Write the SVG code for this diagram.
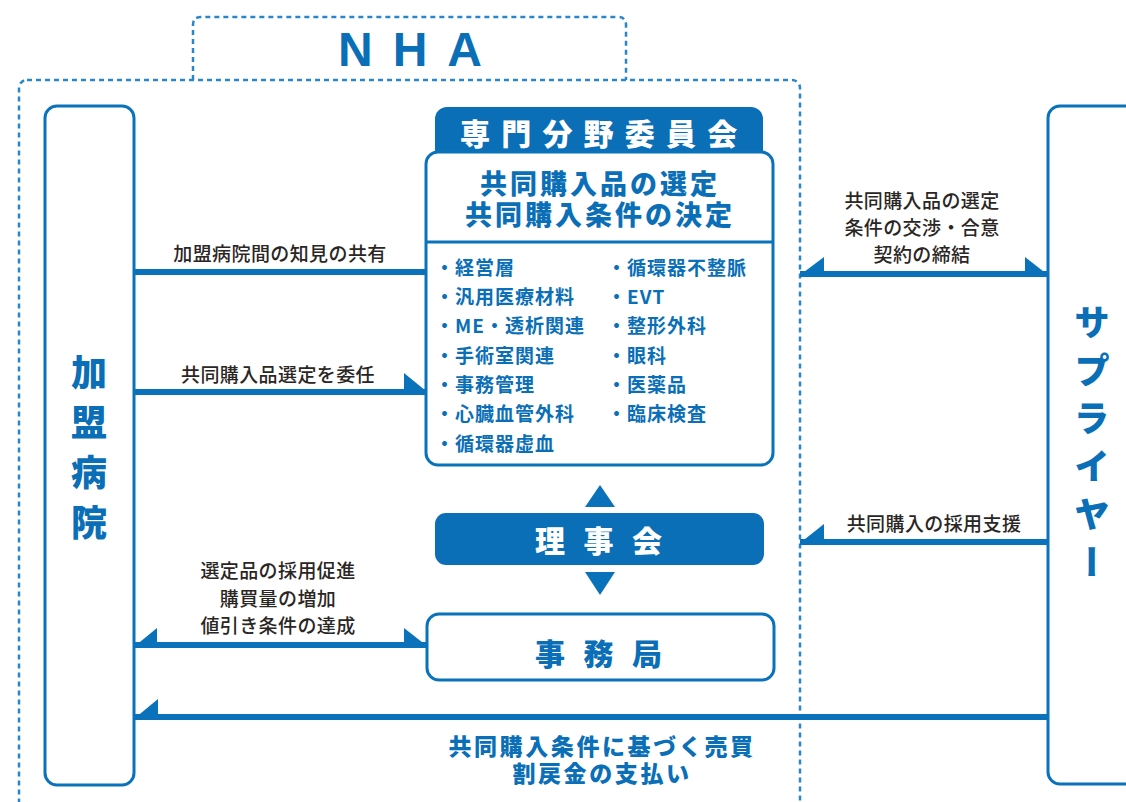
<svg xmlns="http://www.w3.org/2000/svg" width="1126" height="802" viewBox="0 0 1126 802">
<style>
.dash{fill:none;stroke:#2a86ca;stroke-width:2.5;stroke-dasharray:5 4}
.frame{fill:#fff;stroke:#0a72ba;stroke-width:3}
.fillb{fill:#0a6fb7}
.ln{stroke:#0a72ba;stroke-width:6;fill:none}
.ah{fill:#0a72ba}
.jp{font-family:"Noto Sans CJK JP","Noto Sans",sans-serif}
.lbl{font-size:19px;fill:#2a2624;font-weight:500;text-anchor:middle;dominant-baseline:central;letter-spacing:0.4px}
.btitle{font-weight:900;fill:#0a6fb7}
.wtitle{font-weight:900;fill:#fff}
.item{font-size:19px;font-weight:700;fill:#0a6fb7;dominant-baseline:central;letter-spacing:1px}
.vert{writing-mode:vertical-rl;font-size:36px;font-weight:900;fill:#0a6fb7}
</style>
<g id="nha">
<rect class="dash" x="19" y="80" width="781" height="760" rx="8"/>
<path class="dash" d="M193,80 V25 Q193,17 201,17 H618 Q626,17 626,25 V80"/>
<text x="338" y="66" font-family="Liberation Sans, Arial, sans-serif" font-weight="700" font-size="48" fill="#0a6fb7" letter-spacing="20">NHA</text>
</g>
<g id="hospital">
<rect class="frame" x="45" y="106" width="89" height="679" rx="12"/>
<text class="jp vert" x="89" y="354" letter-spacing="14">加盟病院</text>
</g>
<g id="supplier">
<rect class="frame" x="1048" y="106" width="100" height="678" rx="12"/>
<text class="jp vert" x="1092" y="304" letter-spacing="12">サプライヤー</text>
</g>
<g id="committee">
<rect class="fillb" x="435" y="107" width="328" height="60" rx="12"/>
<text class="jp wtitle" x="460" y="132" font-size="30" letter-spacing="11.2" dominant-baseline="central">専門分野委員会</text>
<rect class="frame" x="426" y="152" width="347" height="313" rx="12"/>
<line x1="426" y1="242" x2="773" y2="242" stroke="#0a72ba" stroke-width="3"/>
<text class="jp btitle" font-size="27" letter-spacing="3" text-anchor="middle" dominant-baseline="central"><tspan x="600" y="182">共同購入品の選定</tspan><tspan x="600" y="213">共同購入条件の決定</tspan></text>
<g class="jp item">
<text x="435" y="266">・経営層</text>
<text x="435" y="295">・汎用医療材料</text>
<text x="435" y="324">・ME・透析関連</text>
<text x="435" y="354">・手術室関連</text>
<text x="435" y="383">・事務管理</text>
<text x="435" y="412">・心臓血管外科</text>
<text x="435" y="442">・循環器虚血</text>
<text x="607" y="266">・循環器不整脈</text>
<text x="607" y="295">・EVT</text>
<text x="607" y="324">・整形外科</text>
<text x="607" y="354">・眼科</text>
<text x="607" y="383">・医薬品</text>
<text x="607" y="412">・臨床検査</text>
</g>
</g>
<g id="board">
<rect class="fillb" x="435" y="513" width="329" height="52" rx="11"/>
<text class="jp wtitle" x="535" y="539" font-size="30" letter-spacing="18.5" dominant-baseline="central">理事会</text>
</g>
<g id="secretariat">
<rect class="frame" x="427" y="614" width="347" height="66" rx="12"/>
<text class="jp btitle" x="535" y="652" font-size="30" letter-spacing="18.5" dominant-baseline="central">事務局</text>
</g>
<g id="connectors">
<line class="ln" x1="135" y1="272" x2="426" y2="272"/>
<line class="ln" x1="135" y1="392" x2="426" y2="392"/>
<polygon class="ah" points="404,373 426,391 404,391"/>
<line class="ln" x1="800" y1="274" x2="1048" y2="274"/>
<polygon class="ah" points="824,257 800,275 824,275"/>
<polygon class="ah" points="1025,257 1048,275 1025,275"/>
<line class="ln" x1="800" y1="542" x2="1048" y2="542"/>
<polygon class="ah" points="824,524 800,543 824,543"/>
<line class="ln" x1="135" y1="645" x2="427" y2="645"/>
<polygon class="ah" points="157,628 135,646 157,646"/>
<polygon class="ah" points="404,628 427,646 404,646"/>
<line class="ln" x1="135" y1="717" x2="1048" y2="717"/>
<polygon class="ah" points="158,699 135,718 158,718"/>
<polygon class="ah" points="585,507 600,485 615,507"/>
<polygon class="ah" points="585,572 600,595 615,572"/>
</g>
<g id="labels" class="jp">
<text class="lbl" x="280" y="252">加盟病院間の知見の共有</text>
<text class="lbl" x="278" y="373">共同購入品選定を委任</text>
<text class="lbl" x="922" y="199">共同購入品の選定</text>
<text class="lbl" x="922" y="226">条件の交渉・合意</text>
<text class="lbl" x="922" y="253">契約の締結</text>
<text class="lbl" x="934" y="522">共同購入の採用支援</text>
<text class="lbl" x="278" y="569">選定品の採用促進</text>
<text class="lbl" x="278" y="597">購買量の増加</text>
<text class="lbl" x="278" y="624">値引き条件の達成</text>
<text class="btitle" font-size="23" letter-spacing="2.6" text-anchor="middle" dominant-baseline="central"><tspan x="602" y="745">共同購入条件に基づく売買</tspan><tspan x="602" y="772">割戻金の支払い</tspan></text>
</g>
</svg>
